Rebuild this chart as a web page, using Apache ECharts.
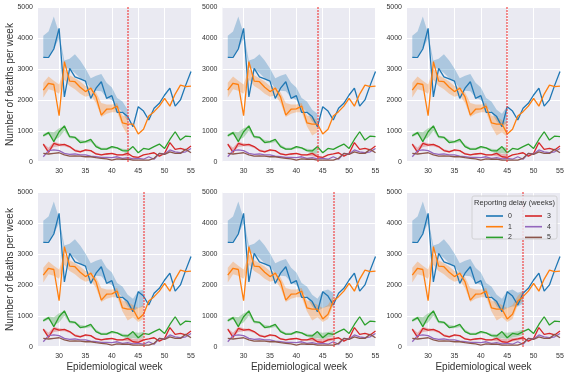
<!DOCTYPE html>
<html>
<head>
<meta charset="utf-8">
<script src="https://cdn.jsdelivr.net/npm/echarts@6/dist/echarts.min.js"></script>
<style>
  html, body { margin: 0; padding: 0; background: #fff; }
  #chart { width: 570px; height: 376px; }
</style>
</head>
<body>
<div id="chart"></div>
<script>
// epidemiological weeks shown in every panel
var weeks = [27, 28, 29, 30, 31, 32, 33, 34, 35, 36, 37, 38, 39, 40, 41, 42, 43, 44, 45, 46, 47, 48, 49, 50, 51, 52, 53, 54, 55];
var xTicks = [30, 35, 40, 45, 50, 55];
var cutoffs = [43, 44, 45, 46, 47, 48];

// deaths per week by reporting delay (weeks)
var delay0 = [3380, 3380, 3650, 4320, 2100, 3020, 2750, 2680, 2610, 2050, 2380, 2590, 2050, 2140, 1600, 1600, 1460, 1130, 1780, 1640, 1350, 1730, 1890, 2160, 2380, 1800, 2000, 2480, 2920];
var delay1 = [2320, 2540, 2500, 1490, 3240, 2610, 2590, 2410, 2270, 2380, 2100, 1510, 1700, 1710, 1800, 1260, 1220, 1220, 900, 1050, 1480, 1620, 1800, 2050, 1800, 2190, 2480, 2430, 2450];
var delay2 = [840, 940, 650, 970, 1160, 810, 790, 620, 650, 720, 490, 410, 410, 490, 450, 360, 350, 490, 290, 430, 400, 490, 570, 430, 720, 970, 700, 830, 810];
var delay3 = [570, 300, 590, 540, 560, 490, 360, 320, 380, 360, 250, 220, 250, 270, 220, 220, 270, 160, 140, 220, 250, 290, 180, 270, 620, 400, 430, 380, 510];
var delay4 = [160, 360, 380, 360, 270, 240, 250, 220, 220, 180, 160, 140, 140, 130, 160, 110, 130, 90, 110, 80, 160, 80, 270, 250, 380, 320, 290, 320, 430];
var delay5 = [270, 250, 270, 290, 220, 180, 190, 180, 160, 160, 130, 110, 90, 50, 90, 80, 80, 50, 50, 50, 50, 110, 270, 240, 320, 270, 270, 400, 290];

// uncertainty bands, weeks 27..48 (cut at each panel's cutoff)
var band0Lo = [3380, 3420, 3650, 4000, 3050, 3000, 2870, 2700, 2600, 2380, 2300, 2280, 2080, 2000, 1780, 1600, 1300, 1150, 1250, 1300, 1300, 1400];
var band0Hi = [4080, 4220, 4700, 4150, 3280, 3330, 3480, 3280, 3020, 2700, 2780, 2840, 2560, 2400, 2060, 1950, 1680, 1550, 1800, 1850, 1750, 1800];
var band1Lo = [2080, 2350, 2300, 2200, 2650, 2450, 2350, 2200, 2100, 2150, 1900, 1450, 1550, 1600, 1600, 1150, 850, 950, 800, 900, 1350, 1500];
var band1Hi = [2560, 2760, 2620, 2500, 3000, 2800, 2700, 2600, 2450, 2420, 2250, 1900, 1850, 1850, 1900, 1500, 1450, 1350, 1250, 1350, 1650, 1800];
var band2Lo = [800, 880, 700, 780, 1000, 760, 740, 600, 600, 640, 470, 380, 380, 430, 420, 340, 250, 280, 250, 300, 330, 380];
var band2Hi = [900, 980, 950, 1080, 1150, 850, 820, 700, 680, 720, 560, 450, 450, 500, 470, 420, 400, 480, 450, 480, 500, 560];
var band3Lo = [520, 330, 480, 500, 500, 440, 340, 300, 340, 330, 230, 200, 220, 240, 200, 190, 180, 140, 130, 170, 200, 230];
var band3Hi = [600, 450, 650, 600, 570, 500, 400, 360, 390, 370, 290, 250, 270, 280, 250, 240, 280, 260, 250, 280, 300, 330];

var delayNames = ['0', '1', '2', '3', '4', '5'];
var colors = ['#1f77b4', '#ff7f0e', '#2ca02c', '#d62728', '#9467bd', '#8c564b'];
var lines = [delay0, delay1, delay2, delay3, delay4, delay5];
var bands = [[band0Lo, band0Hi], [band1Lo, band1Hi], [band2Lo, band2Hi], [band3Lo, band3Hi]];

var lefts = [38, 222.5, 407];
var tops = [7.3, 192.3];
var W = 153, H = 154.4;
var txt = '#333';
var fontFam = '"Liberation Sans", Arial, sans-serif';

var grids = [], xAxes = [], yAxes = [], series = [];

for (var p = 0; p < 6; p++) {
  var col = p % 3, row = Math.floor(p / 3);
  grids.push({ left: lefts[col], top: tops[row], width: W, height: H, show: true, backgroundColor: '#EAEAF2', borderWidth: 0 });
  xAxes.push({
    gridIndex: p, type: 'value', min: 26, max: 55,
    name: row === 1 ? 'Epidemiological week' : '',
    nameLocation: 'middle', nameGap: 16,
    nameTextStyle: { fontSize: 10, color: txt, fontFamily: fontFam },
    axisLine: { show: false }, axisTick: { show: false, customValues: xTicks },
    axisLabel: { customValues: xTicks, fontSize: 7, color: txt, margin: 6, fontFamily: fontFam },
    splitLine: { show: true, lineStyle: { color: '#fff', width: 1 } }
  });
  yAxes.push({
    gridIndex: p, type: 'value', min: 0, max: 5000, interval: 1000,
    name: col === 0 ? 'Number of deaths per week' : '',
    nameLocation: 'middle', nameGap: 23, nameMoveOverlap: false,
    nameTextStyle: { fontSize: 10, color: txt, fontFamily: fontFam },
    axisLine: { show: false }, axisTick: { show: false },
    axisLabel: { fontSize: 7, color: txt, margin: 5, fontFamily: fontFam, formatter: function (v) { return String(v); } },
    splitLine: { show: true, lineStyle: { color: '#fff', width: 1 } }
  });

  // shaded bands up to the cutoff week
  bands.forEach(function (b, d) {
    var pts = [];
    for (var i = 0; i < b[0].length; i++) {
      if (weeks[i] <= cutoffs[p]) pts.push([weeks[i], b[0][i], b[1][i]]);
    }
    series.push({
      type: 'custom', name: 'band' + d, xAxisIndex: p, yAxisIndex: p, silent: true,
      clip: true, data: pts, encode: { x: 0, y: [1, 2] },
      renderItem: (function (pts, c) {
        return function (params, api) {
          if (params.dataIndex !== 0) return;
          var upper = pts.map(function (q) { return api.coord([q[0], q[2]]); });
          var lower = pts.map(function (q) { return api.coord([q[0], q[1]]); }).reverse();
          return { type: 'polygon', shape: { points: upper.concat(lower) }, style: { fill: c, opacity: 0.3 } };
        };
      })(pts, colors[d])
    });
  });

  lines.forEach(function (vals, d) {
    series.push({
      type: 'line', name: delayNames[d], xAxisIndex: p, yAxisIndex: p,
      data: weeks.map(function (w, i) { return [w, vals[i]]; }),
      symbol: 'none', color: colors[d], lineStyle: { width: 1.3, color: colors[d] },
      silent: true, animation: false
    });
  });

  // red dotted cutoff line
  series.push({
    type: 'line', name: 'cutoff', xAxisIndex: p, yAxisIndex: p, data: [],
    color: '#f03c3c', silent: true, z: 5,
    markLine: {
      silent: true, symbol: 'none', label: { show: false },
      lineStyle: { color: '#f03c3c', type: [1.5, 1.5], width: 1.5, opacity: 1 },
      data: [{ xAxis: cutoffs[p] }]
    }
  });
}

var legendBase = {
  orient: 'vertical', itemWidth: 17, itemHeight: 1.6, icon: 'rect', itemGap: 1.7,
  textStyle: { fontSize: 7, color: txt, lineHeight: 9, fontFamily: fontFam },
  selectedMode: false, z: 20
};

var option = {
  animation: false,
  backgroundColor: '#fff',
  textStyle: { fontFamily: fontFam },
  grid: grids, xAxis: xAxes, yAxis: yAxes, series: series,
  legend: [
    Object.assign({}, legendBase, { data: ['0', '1', '2'], left: 481, top: 206.5 }),
    Object.assign({}, legendBase, { data: ['3', '4', '5'], left: 520, top: 206.5 })
  ],
  graphic: [
    { type: 'rect', z: 15, shape: { x: 472, y: 196, width: 85, height: 43, r: 2 },
      style: { fill: 'rgba(236,236,243,0.85)', stroke: '#cccccc', lineWidth: 0.8 } },
    { type: 'text', z: 16, x: 514.5, y: 203, style: { text: 'Reporting delay (weeks)', fontSize: 7.5, fill: txt, fontFamily: fontFam, align: 'center', verticalAlign: 'middle' } }
  ]
};

var chart = echarts.init(document.getElementById('chart'), null, { renderer: 'canvas' });
chart.setOption(option);
</script>
</body>
</html>
